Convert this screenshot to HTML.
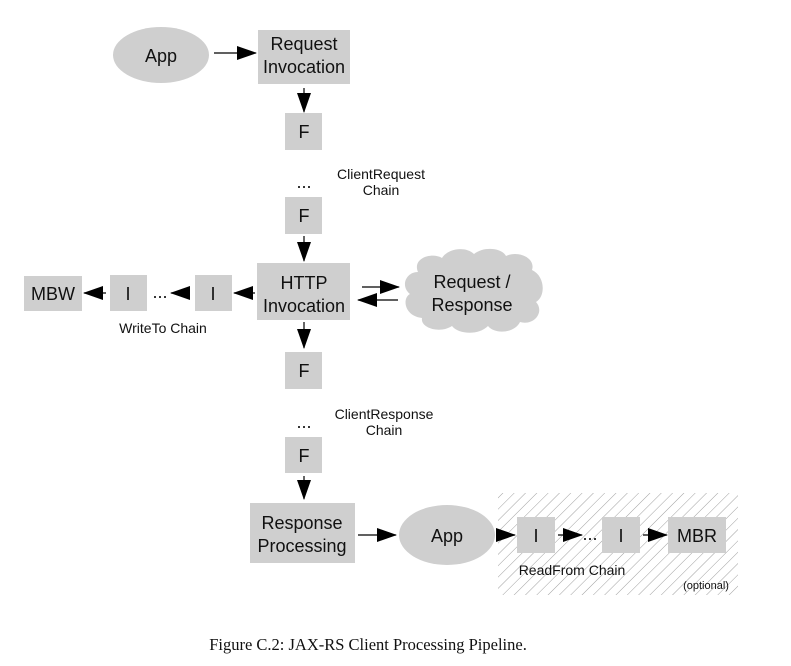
<!DOCTYPE html>
<html><head><meta charset="utf-8"><style>
html,body{margin:0;padding:0;background:#fff;}
svg{display:block;}
text{font-family:"Liberation Sans",sans-serif;fill:#111;}
</style></head><body>
<svg width="791" height="666" viewBox="0 0 791 666" xmlns="http://www.w3.org/2000/svg">
<defs>
<marker id="b" markerWidth="20" markerHeight="14" refX="19" refY="7" orient="auto" markerUnits="userSpaceOnUse" viewBox="0 0 20 14">
<path d="M0,0 L20,7 L0,14 z" fill="#000"/></marker>
<pattern id="h" width="8" height="8" patternUnits="userSpaceOnUse" patternTransform="rotate(45)">
<line x1="0" y1="0" x2="0" y2="8" stroke="#888" stroke-width="0.8"/></pattern>
</defs>
<g fill="#cfcfcf">
<rect x="498" y="493" width="240" height="102" fill="url(#h)"/>
<ellipse cx="161" cy="55" rx="48" ry="28"/>
<rect x="258" y="30" width="92" height="54"/>
<rect x="285" y="113" width="37" height="37"/>
<rect x="285" y="197" width="37" height="37"/>
<rect x="257" y="263" width="93" height="57"/>
<rect x="195" y="275" width="37" height="36"/>
<rect x="110" y="275" width="37" height="36"/>
<rect x="24" y="276" width="58" height="35"/>
<rect x="285" y="352" width="37" height="37"/>
<rect x="285" y="437" width="37" height="36"/>
<rect x="250" y="503" width="105" height="60"/>
<ellipse cx="447" cy="535" rx="48" ry="30"/>
<rect x="517" y="517" width="38" height="36"/>
<rect x="602" y="517" width="38" height="36"/>
<rect x="668" y="517" width="58" height="36"/>
<path d="M418,272 C412,258 432,252 442,258 C448,248 466,246 474,254 C484,246 502,248 506,256 C518,250 536,258 532,270 C545,276 546,296 536,302 C545,312 534,326 520,322 C514,334 494,334 488,326 C478,336 458,334 452,326 C440,334 420,328 422,318 C404,316 402,298 410,294 C400,286 406,272 418,272 z"/>
</g>
<g stroke="#000" stroke-width="1.2" fill="none">
<line x1="214" y1="53" x2="256" y2="53" marker-end="url(#b)"/>
<line x1="304" y1="88" x2="304" y2="112" marker-end="url(#b)"/>
<line x1="304" y1="236" x2="304" y2="261" marker-end="url(#b)"/>
<line x1="362" y1="287" x2="399" y2="287" marker-end="url(#b)"/>
<line x1="398" y1="300" x2="358" y2="300" marker-end="url(#b)"/>
<line x1="255" y1="293" x2="234" y2="293" marker-end="url(#b)"/>
<line x1="190" y1="293" x2="171" y2="293" marker-end="url(#b)"/>
<line x1="106" y1="293" x2="84" y2="293" marker-end="url(#b)"/>
<line x1="304" y1="322" x2="304" y2="348" marker-end="url(#b)"/>
<line x1="304" y1="476" x2="304" y2="499" marker-end="url(#b)"/>
<line x1="358" y1="535" x2="396" y2="535" marker-end="url(#b)"/>
<line x1="497" y1="535" x2="515" y2="535" marker-end="url(#b)"/>
<line x1="558" y1="535" x2="582" y2="535" marker-end="url(#b)"/>
<line x1="643" y1="535" x2="667" y2="535" marker-end="url(#b)"/>
</g>
<g font-size="18" text-anchor="middle">
<text x="161" y="62">App</text>
<text x="304" y="50">Request</text>
<text x="304" y="73">Invocation</text>
<text x="304" y="138">F</text>
<text x="304" y="188">...</text>
<text x="304" y="222">F</text>
<text x="304" y="289">HTTP</text>
<text x="304" y="312">Invocation</text>
<text x="472" y="288">Request /</text>
<text x="472" y="311">Response</text>
<text x="213" y="300">I</text>
<text x="160" y="298">...</text>
<text x="128" y="300">I</text>
<text x="53" y="300">MBW</text>
<text x="304" y="377">F</text>
<text x="304" y="428">...</text>
<text x="304" y="462">F</text>
<text x="302" y="529">Response</text>
<text x="302" y="552">Processing</text>
<text x="447" y="542">App</text>
<text x="536" y="542">I</text>
<text x="590" y="540">...</text>
<text x="621" y="542">I</text>
<text x="697" y="542">MBR</text>
</g>
<g font-size="14" text-anchor="middle">
<text x="381" y="179">ClientRequest</text>
<text x="381" y="195">Chain</text>
<text x="163" y="333">WriteTo Chain</text>
<text x="384" y="419">ClientResponse</text>
<text x="384" y="435">Chain</text>
<text x="572" y="575">ReadFrom Chain</text>
<text x="706" y="589" font-size="11">(optional)</text>
</g>
<text x="368" y="650" text-anchor="middle" font-size="16.5" style="font-family:'Liberation Serif',serif">Figure C.2: JAX-RS Client Processing Pipeline.</text>
</svg>
</body></html>
